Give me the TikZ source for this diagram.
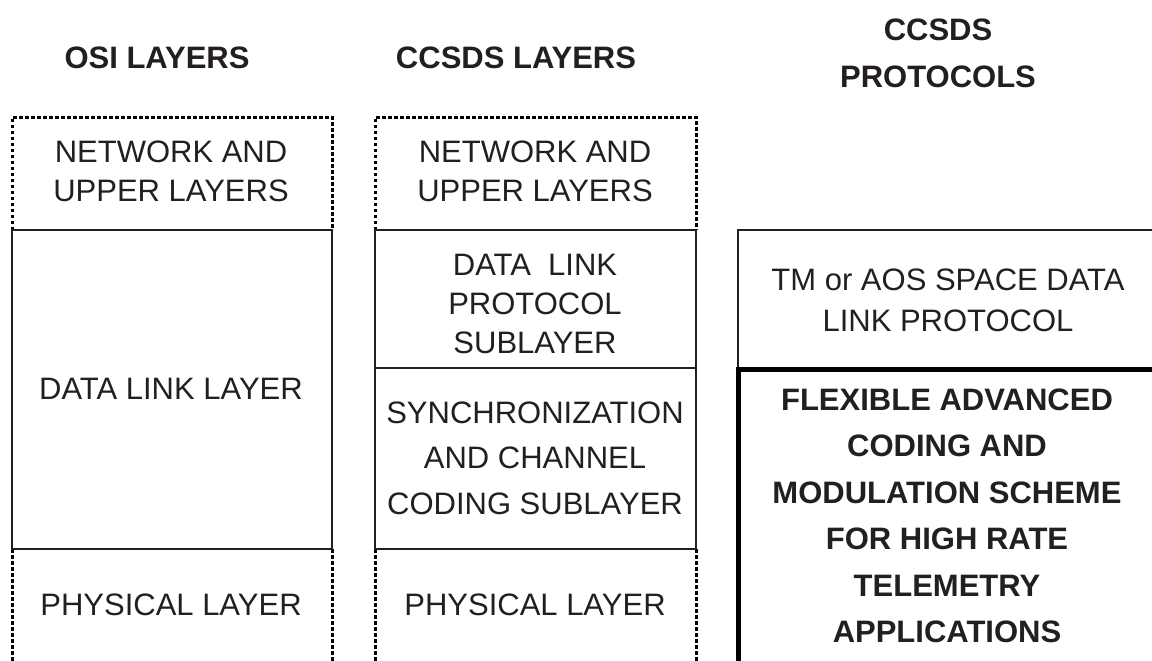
\documentclass[tikz,border=0pt]{standalone}
\usepackage{fontspec}
\setmainfont{Liberation Sans}
\definecolor{ink}{HTML}{231F20}
\begin{document}
\begin{tikzpicture}[x=1pt,y=-1pt,
  txt/.style={align=center,inner sep=0pt,
    font=\fontsize{31}{39}\selectfont,text=ink},
  btxt/.style={align=center,inner sep=0pt,
    font=\fontsize{31}{46.5}\selectfont\bfseries,text=ink},
  head/.style={align=center,inner sep=0pt,
    font=\fontsize{31}{47}\selectfont\bfseries,text=ink},
  solidbox/.style={line width=2.5pt,draw=ink},
  dotline/.style={line width=3pt,dash pattern=on 3.5pt off 2.5pt,draw=black},
  thickline/.style={line width=5pt,draw=black}]
\useasboundingbox (0,0) rectangle (1152,661);
% headers
\node[head] (hosi) at (157,57.5) {OSI LAYERS};
\node[head] (hccsds) at (516,57.5) {CCSDS LAYERS};
\node[head] (hprot) at (938,53) {CCSDS\\PROTOCOLS};
% OSI column
\draw[dotline] (12,230) -- (12,117) -- (332,117) -- (332,230);
\draw[dotline] (12,549) -- (12,661);
\draw[dotline] (332,549) -- (332,661);
\draw[solidbox] (12,230) rectangle (332,549);
\node[txt] (onet) at (171,171) {NETWORK AND\\UPPER LAYERS};
\node[txt] (odll) at (171,389) {DATA LINK LAYER};
\node[txt] (ophy) at (171,605) {PHYSICAL LAYER};
% CCSDS column
\draw[dotline] (375,230) -- (375,117) -- (696,117) -- (696,230);
\draw[dotline] (375,549) -- (375,661);
\draw[dotline] (696,549) -- (696,661);
\draw[solidbox] (375,230) rectangle (696,368);
\draw[solidbox] (375,368) rectangle (696,549);
\node[txt] (cnet) at (535,171) {NETWORK AND\\UPPER LAYERS};
\node[txt] (cdlp) at (535,304) {DATA\ \ LINK\\PROTOCOL\\SUBLAYER};
\node[txt,font=\fontsize{31}{45.5}\selectfont] (csync) at (535,458) {SYNCHRONIZATION\\AND CHANNEL\\CODING SUBLAYER};
\node[txt] (cphy) at (535,605) {PHYSICAL LAYER};
% CCSDS protocols column
\draw[solidbox] (1160,230) -- (738,230) -- (738,369);
\draw[thickline] (738,670) -- (738,369) -- (1160,369);
\node[txt,font=\fontsize{31}{41}\selectfont] (ptm) at (948,300) {TM or AOS SPACE DATA\\LINK PROTOCOL};
\node[btxt] (pflex) at (947,516) {FLEXIBLE ADVANCED\\CODING AND\\MODULATION SCHEME\\FOR HIGH RATE\\TELEMETRY\\APPLICATIONS};
\end{tikzpicture}
\end{document}
